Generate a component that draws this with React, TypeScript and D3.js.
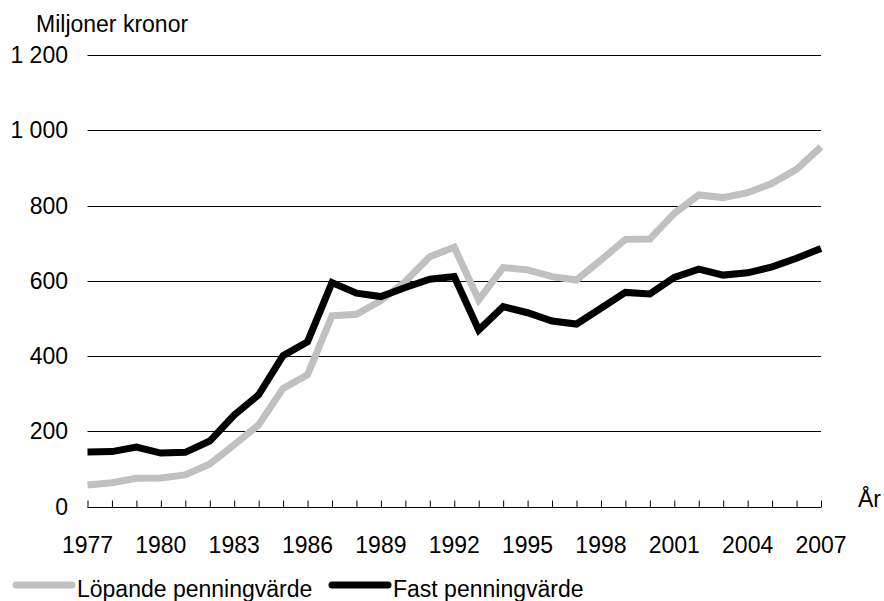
import * as d3 from "d3";
import { useEffect, useRef } from "react";

const years = d3.range(1977, 2008);

// Löpande penningvärde (current prices), million SEK
const lopande = [
  57, 63, 75, 76, 84, 113, 164, 217, 314, 350,
  507, 511, 547, 598, 664, 689, 549, 635, 629, 611,
  602, 655, 710, 711, 779, 828, 821, 834, 859, 896,
  956,
];

// Fast penningvärde (constant prices), million SEK
const fast = [
  145, 146, 158, 142, 144, 174, 243, 297, 401, 438,
  595, 567, 558, 582, 604, 611, 469, 531, 515, 493,
  485, 527, 569, 565, 609, 631, 615, 621, 637, 660,
  686,
];

const yTicks = [0, 200, 400, 600, 800, 1000, 1200];
const xLabelYears = [1977, 1980, 1983, 1986, 1989, 1992, 1995, 1998, 2001, 2004, 2007];

const seriesNames = ["Löpande penningvärde", "Fast penningvärde"];
const seriesColors = ["#c0c0c0", "#000000"];

const width = 884;
const height = 601;
const font = "'Liberation Sans', Arial, sans-serif";

function fmt(v: number) {
  // Swedish thousands separator: space
  return d3.format(",")(v).replace(/,/g, " ");
}

function App() {
  const ref = useRef<SVGSVGElement>(null);

  useEffect(() => {
    const svg = d3.select(ref.current);
    svg.selectAll("*").remove();

    const x = d3.scaleLinear().domain([1977, 2007]).range([87.5, 821]);
    const y = d3.scaleLinear().domain([0, 1200]).range([506.5, 55]);

    const g = svg.append("g").style("font-family", font).style("font-size", "23px");

    // gridlines
    g.selectAll("line.grid")
      .data(yTicks.filter((d) => d > 0))
      .join("line")
      .attr("x1", x(1977))
      .attr("x2", x(2007))
      .attr("y1", (d) => Math.round(y(d)) + 0.5)
      .attr("y2", (d) => Math.round(y(d)) + 0.5)
      .attr("stroke", "#000")
      .attr("stroke-width", 1);

    // y labels
    g.selectAll("text.ylab")
      .data(yTicks)
      .join("text")
      .attr("x", 68)
      .attr("y", (d) => y(d) + 8)
      .attr("text-anchor", "end")
      .attr("fill", "#000")
      .text((d) => fmt(d));

    g.append("text")
      .attr("x", 36)
      .attr("y", 32)
      .attr("fill", "#000")
      .text("Miljoner kronor");

    // x axis with ticks pointing up
    const xAxis = d3
      .axisTop(x)
      .tickValues(years)
      .tickSize(7)
      .tickFormat(() => "");
    const ax = g.append("g").attr("transform", `translate(0,${Math.round(y(0)) + 0.5})`).call(xAxis);
    ax.select(".domain").attr("stroke", "#000").attr("d", `M${x(1977)},0H${x(2007)}`);
    ax.selectAll(".tick line").attr("stroke", "#000");

    g.selectAll("text.xlab")
      .data(xLabelYears)
      .join("text")
      .attr("x", (d) => x(d))
      .attr("y", 553)
      .attr("text-anchor", "middle")
      .attr("fill", "#000")
      .text((d) => d);

    g.append("text").attr("x", 858).attr("y", 507).attr("fill", "#000").text("År");

    // lines
    const line = d3
      .line<number>()
      .x((_, i) => x(years[i]))
      .y((d) => y(d));

    [lopande, fast].forEach((data, i) => {
      g.append("path")
        .datum(data)
        .attr("d", line)
        .attr("fill", "none")
        .attr("stroke", seriesColors[i])
        .attr("stroke-width", 7)
        .attr("stroke-linejoin", "miter");
    });

    // legend
    const legendX = [16, 332];
    seriesNames.forEach((name, i) => {
      g.append("line")
        .attr("x1", legendX[i])
        .attr("x2", legendX[i] + 56)
        .attr("y1", 585)
        .attr("y2", 585)
        .attr("stroke", seriesColors[i])
        .attr("stroke-width", 7)
        .attr("stroke-linecap", "round");
      g.append("text")
        .attr("x", legendX[i] + 61)
        .attr("y", 597)
        .attr("fill", "#000")
        .text(name);
    });
  }, []);

  return (
    <svg
      ref={ref}
      width={width}
      height={height}
      style={{ position: "absolute", left: 0, top: 0, background: "#fff" }}
    />
  );
}

export default App;
